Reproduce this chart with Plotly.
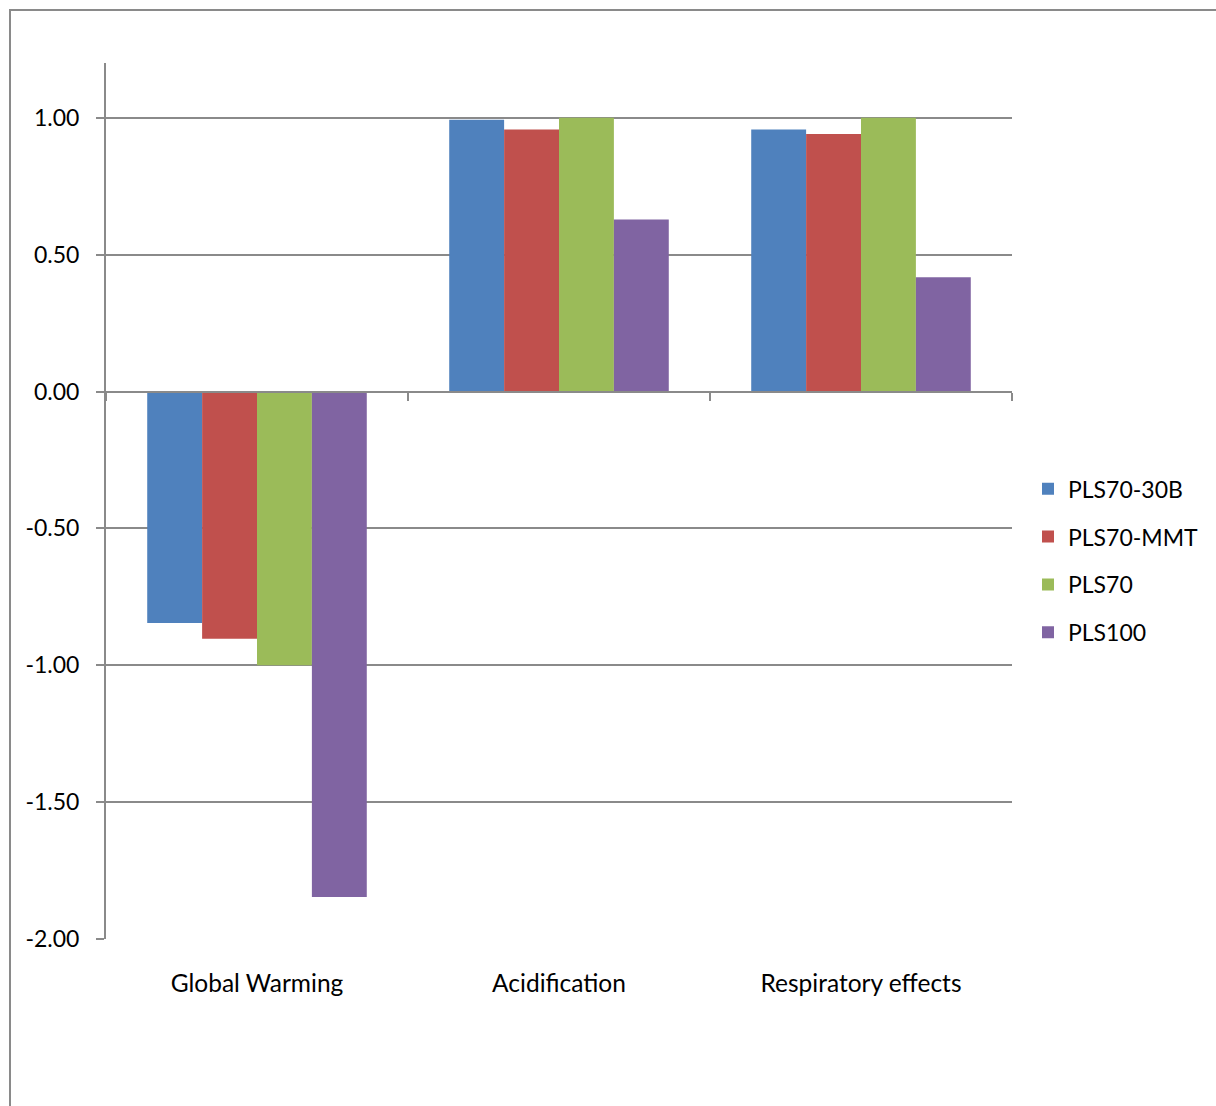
import plotly.graph_objects as go

# Impact categories and normalised scores per material
categories = ["Global Warming", "Acidification", "Respiratory effects"]
series_names = ["PLS70-30B", "PLS70-MMT", "PLS70", "PLS100"]
pls70_30b = [-0.846, 0.993, 0.957]
pls70_mmt = [-0.903, 0.957, 0.941]
pls70 = [-1.0, 1.0, 1.0]
pls100 = [-1.847, 0.628, 0.417]
y_ticks = [-2.0, -1.5, -1.0, -0.5, 0.0, 0.5, 1.0]
y_tick_labels = [f"{v:.2f}" for v in y_ticks]

colors = ["#4F81BD", "#C0504D", "#9BBB59", "#8064A2"]
values = [pls70_30b, pls70_mmt, pls70, pls100]

GRAY = "#8a8a8a"
FONT = "Lato"

W, H = 1216, 1106
L, R, T, B = 106, 1012, 63, 939.5  # plot area in px

fig = go.Figure()
for i, (name, vals, col) in enumerate(zip(series_names, values, colors)):
    fig.add_trace(go.Bar(
        x=categories, y=vals, name=name,
        marker=dict(color=col, line=dict(width=0)),
        legendgroup=f"g{i}",
        xaxis="x", yaxis="y",
    ))

# helper trace so the category axis drawn along y = 0 gets its categories
fig.add_trace(go.Scatter(
    x=categories, y=[0, 0, 0], mode="markers",
    marker=dict(opacity=0, size=1), showlegend=False, hoverinfo="skip",
    xaxis="x2", yaxis="y",
))

ymin, ymax = -2.0, 1.2
zero_pos = (0 - ymin) / (ymax - ymin)

def px_x(p):
    return (p - L) / (R - L)

def px_y(p):
    return (B - p) / (B - T)

fig.update_layout(
    width=W, height=H,
    margin=dict(l=L, r=W - R, t=T, b=H - B, pad=0, autoexpand=False),
    paper_bgcolor="white", plot_bgcolor="white",
    font=dict(family=FONT, size=24, color="black"),
    barmode="group", bargap=0.273, bargroupgap=0,
    xaxis=dict(
        type="category", categoryorder="array", categoryarray=categories,
        showline=False, showgrid=False, zeroline=False, ticks="",
        ticklabelstandoff=27, tickfont=dict(family=FONT, size=24.5, color="black"),
    ),
    xaxis2=dict(
        type="category", categoryorder="array", categoryarray=categories,
        overlaying="x", anchor="free", position=zero_pos, side="bottom",
        showline=True, linecolor=GRAY, linewidth=2,
        ticks="outside", ticklen=8, tickwidth=2, tickcolor=GRAY,
        tickson="boundaries", showticklabels=False, showgrid=False, zeroline=False,
        range=[-0.5, 2.5],
    ),
    yaxis=dict(
        range=[ymin, ymax], tickmode="array", tickvals=y_ticks, ticktext=y_tick_labels,
        showline=True, linecolor=GRAY, linewidth=2,
        ticks="outside", ticklen=8, tickwidth=2, tickcolor=GRAY,
        showgrid=True, gridcolor=GRAY, gridwidth=2, zeroline=False,
        ticklabelstandoff=12, tickfont=dict(family=FONT, size=23, color="black"),
    ),
    legend=dict(
        x=px_x(1028), xanchor="left", y=px_y(561), yanchor="middle",
        font=dict(family=FONT, size=23, color="black"),
        tracegroupgap=15, traceorder="grouped", itemwidth=30,
        bgcolor="rgba(0,0,0,0)",
    ),
    shapes=[dict(
        type="rect", xref="paper", yref="paper", layer="above",
        x0=px_x(10), x1=px_x(1240), y0=px_y(10), y1=px_y(1130),
        line=dict(color=GRAY, width=2), fillcolor="rgba(0,0,0,0)",
    )],
)

fig.write_html("out.html")
